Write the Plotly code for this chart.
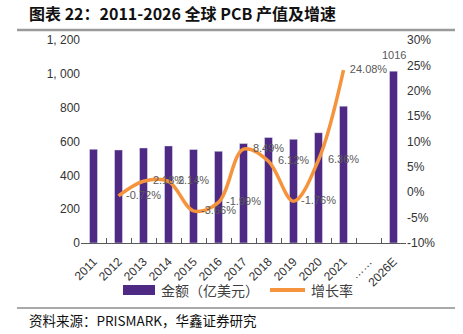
import plotly.graph_objects as go

categories = ["2011", "2012", "2013", "2014", "2015", "2016", "2017", "2018",
              "2019", "2020", "2021", "……", "2026E"]
bar_cats = ["2011", "2012", "2013", "2014", "2015", "2016", "2017", "2018",
            "2019", "2020", "2021", "2026E"]
amounts = [554, 550, 562, 574, 553, 542, 588, 624, 613, 652, 809, 1016]
growth_cats = ["2012", "2013", "2014", "2015", "2016", "2017", "2018", "2019", "2020", "2021"]
growth = [-0.72, 2.18, 2.14, -3.66, -1.99, 8.49, 6.12, -1.76, 6.36, 24.08]
# growth data labels as placed in the source (shifted one category right)
growth_label_cats = ["2013", "2014", "2015", "2016", "2017", "2018", "2019", "2020", "2021", "……"]

left_ticks = [0, 200, 400, 600, 800, 1000, 1200]
left_ticktext = ["0", "200", "400", "600", "800", "1, 000", "1, 200"]
right_ticks = [-10, -5, 0, 5, 10, 15, 20, 25, 30]
right_ticktext = ["-10%", "-5%", "0%", "5%", "10%", "15%", "20%", "25%", "30%"]

PURPLE = "#4E2A84"
ORANGE = "#F5943C"
GRAY = "#595959"
LAT = "Liberation Sans, Arial, sans-serif"
CJK = "Noto Sans CJK SC, sans-serif"

fig = go.Figure()
fig.add_trace(go.Bar(x=bar_cats, y=amounts, marker_color=PURPLE, width=0.32,
                     name="金额（亿美元）", showlegend=False))
fig.add_trace(go.Scatter(x=growth_cats, y=growth, yaxis="y2", mode="lines",
                         line=dict(color=ORANGE, width=3.5, shape="spline", smoothing=1.0),
                         name="增长率", showlegend=False))
fig.add_trace(go.Scatter(x=growth_label_cats, y=growth, yaxis="y2", mode="text",
                         text=[f"{v:.2f}%" for v in growth], textposition="middle center",
                         textfont=dict(size=11, color=GRAY, family=LAT),
                         showlegend=False, hoverinfo="skip"))

annotations = []
for c, v in zip(bar_cats, amounts):
    annotations.append(dict(x=c, y=v, xref="x", yref="y", text=str(v), showarrow=False,
                            yshift=16, font=dict(size=11, color=GRAY, family=LAT)))

# title, legend, footer
annotations += [
    dict(x=27, y=13, xref="paper", yref="paper", text="<b>图表 22：2011-2026 全球 PCB 产值及增速</b>",
         showarrow=False, xanchor="left", yanchor="middle",
         font=dict(size=16, color="#111111", family=CJK)),
    dict(x=27, y=320, text="资料来源：PRISMARK，华鑫证券研究", showarrow=False,
         xanchor="left", yanchor="middle", font=dict(size=13.5, color="#111111", family=CJK)),
    dict(x=159, y=290, text="金额（亿美元）", showarrow=False, xanchor="left", yanchor="middle",
         font=dict(size=14, color="#404040", family=CJK)),
    dict(x=309, y=290, text="增长率", showarrow=False, xanchor="left", yanchor="middle",
         font=dict(size=14, color="#404040", family=CJK)),
]

W, H = 463, 334
ml, mr, mt, mb = 81, 57, 40, 91
pw, ph = W - ml - mr, H - mt - mb


def px2paper(x, y):
    return (x - ml) / pw, (H - mb - y) / ph


for a in annotations:
    if a.get("xref") != "x":
        a["x"], a["y"] = px2paper(a["x"], a["y"])
        a["xref"], a["yref"] = "paper", "paper"

shapes = []


def pshape(kind, x0, y0, x1, y1, **kw):
    X0, Y0 = px2paper(x0, y0)
    X1, Y1 = px2paper(x1, y1)
    d = dict(type=kind, xref="paper", yref="paper", x0=X0, y0=Y0, x1=X1, y1=Y1)
    d.update(kw)
    shapes.append(d)


pshape("line", 17, 30, 455, 30, line=dict(color="#9a9a9a", width=2.5))
pshape("line", 17, 308, 455, 308, line=dict(color="#555555", width=1))
pshape("rect", 123, 285, 155, 295, fillcolor=PURPLE, line=dict(width=0))
pshape("line", 270, 290, 305, 290, line=dict(color=ORANGE, width=4))

fig.update_layout(
    width=W, height=H, margin=dict(l=ml, r=mr, t=mt, b=mb),
    paper_bgcolor="white", plot_bgcolor="white",
    xaxis=dict(type="category", categoryorder="array", categoryarray=categories,
               tickmode="array", tickvals=categories, ticktext=categories,
               tickangle=-45, tickson="boundaries", ticks="inside", ticklen=5,
               tickcolor=GRAY, showline=True, linecolor=GRAY, linewidth=1,
               showgrid=False, tickfont=dict(size=12, color="#333333", family=LAT),
               ticklabelstandoff=6, range=[-0.5, 12.5]),
    yaxis=dict(range=[0, 1200], tickvals=left_ticks, ticktext=left_ticktext,
               showgrid=False, zeroline=False, showline=False, ticks="",
               tickfont=dict(size=12, color="#333333", family=LAT)),
    yaxis2=dict(range=[-10, 30], tickvals=right_ticks, ticktext=right_ticktext,
                overlaying="y", side="right", showgrid=False, zeroline=False,
                showline=False, ticks="", tickfont=dict(size=12, color="#333333", family=LAT)),
    annotations=annotations, shapes=shapes, showlegend=False,
)

fig.write_html("out.html")
